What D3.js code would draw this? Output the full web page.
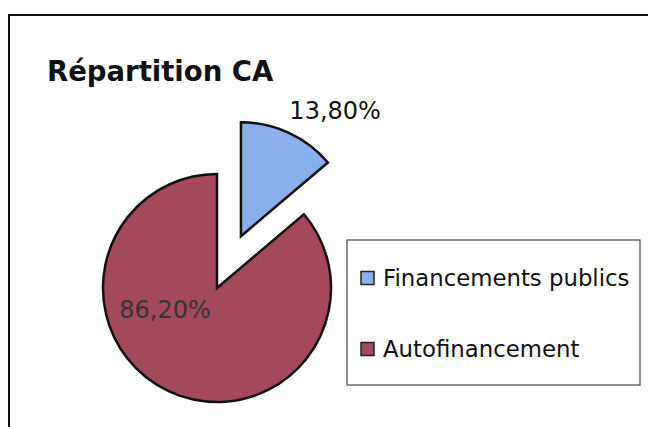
<!DOCTYPE html>
<html>
<head>
<meta charset="utf-8">
<script src="https://cdn.jsdelivr.net/npm/d3@7"></script>
<style>
  body { margin: 0; background: #fff; }
  svg { display: block; }
</style>
</head>
<body>
<div class="chart"></div>
<script>

// Chart data
var categories = ["Financements publics", "Autofinancement"];
var values = [13.8, 86.2];
var labels = ["13,80%", "86,20%"];
var colors = ["#89b0ea", "#a4495c"];

var width = 648, height = 427;

var svg = d3.select(".chart")
    .append("svg")
        .attr("width", width)
        .attr("height", height);

// Outer chart border (runs off the right and bottom of the scan)
svg.append("rect")
    .attr("x", 9)
    .attr("y", 15)
    .attr("width", 660)
    .attr("height", 440)
    .style("fill", "none")
    .style("stroke", "#111")
    .style("stroke-width", 2);

// Title
svg.append("text")
    .attr("x", 47)
    .attr("y", 81)
    .style("font-family", "'DejaVu Sans', Verdana, sans-serif")
    .style("font-weight", "bold")
    .style("font-size", "27.5px")
    .style("fill", "#111")
    .text("Répartition CA");

// Pie geometry
var cx = 217, cy = 288, radius = 114, explode = 57;

var pie = d3.pie()
    .sort(null)
    .value(function(d) { return d; });

var arcs = pie(values);

var arc = d3.arc()
    .innerRadius(0)
    .outerRadius(radius);

var g = svg.append("g")
    .attr("transform", "translate(" + cx + "," + cy + ")");

// Only the first slice is pulled out of the pie
function offset(d, i) {
    if (i != 0) return [0, 0];
    var mid = (d.startAngle + d.endAngle) / 2;
    return [Math.sin(mid) * explode, -Math.cos(mid) * explode];
}

g.selectAll("path")
    .data(arcs)
    .enter()
    .append("path")
    .attr("d", arc)
    .attr("transform", function(d, i) {
        var o = offset(d, i);
        return "translate(" + o[0] + "," + o[1] + ")";
    })
    .style("fill", function(d, i) { return colors[i]; })
    .style("stroke", "#111")
    .style("stroke-width", 2.5)
    .style("stroke-linejoin", "miter");

// Data labels: one outside the pulled slice, one inside the big slice
var outerLabel = d3.arc().innerRadius(radius * 1.72).outerRadius(radius * 1.72);
var innerLabel = d3.arc().innerRadius(0).outerRadius(radius);
var labelShift = [[-10, 9], [-28, -22]];

g.selectAll(".label")
    .data(arcs)
    .enter()
    .append("text")
    .attr("class", "label")
    .attr("transform", function(d, i) {
        var c = i == 0 ? outerLabel.centroid(d) : innerLabel.centroid(d);
        return "translate(" + (c[0] + labelShift[i][0]) + "," + (c[1] + labelShift[i][1]) + ")";
    })
    .attr("text-anchor", function(d, i) { return i == 0 ? "start" : "middle"; })
    .style("font-family", "'DejaVu Sans', Verdana, sans-serif")
    .style("font-size", "24px")
    .style("fill", function(d, i) { return i == 0 ? "#111" : "#333"; })
    .text(function(d, i) { return labels[i]; });

// Legend
var legend = svg.append("g")
    .attr("transform", "translate(347,240)");

legend.append("rect")
    .attr("width", 293)
    .attr("height", 145)
    .style("fill", "#fff")
    .style("stroke", "#444")
    .style("stroke-width", 1.2);

var ly = d3.scalePoint()
    .domain(categories)
    .range([38, 109]);

var item = legend.selectAll(".item")
    .data(categories)
    .enter()
    .append("g")
    .attr("class", "item")
    .attr("transform", function(d) { return "translate(14," + ly(d) + ")"; });

item.append("rect")
    .attr("width", 13)
    .attr("height", 13)
    .attr("y", -6.5)
    .style("fill", function(d, i) { return colors[i]; })
    .style("stroke", "#222")
    .style("stroke-width", 1.5);

item.append("text")
    .attr("x", 22)
    .attr("dy", "0.36em")
    .style("font-family", "'DejaVu Sans', Verdana, sans-serif")
    .style("font-size", "22.8px")
    .style("fill", "#111")
    .text(function(d) { return d; });

</script>
</body>
</html>
